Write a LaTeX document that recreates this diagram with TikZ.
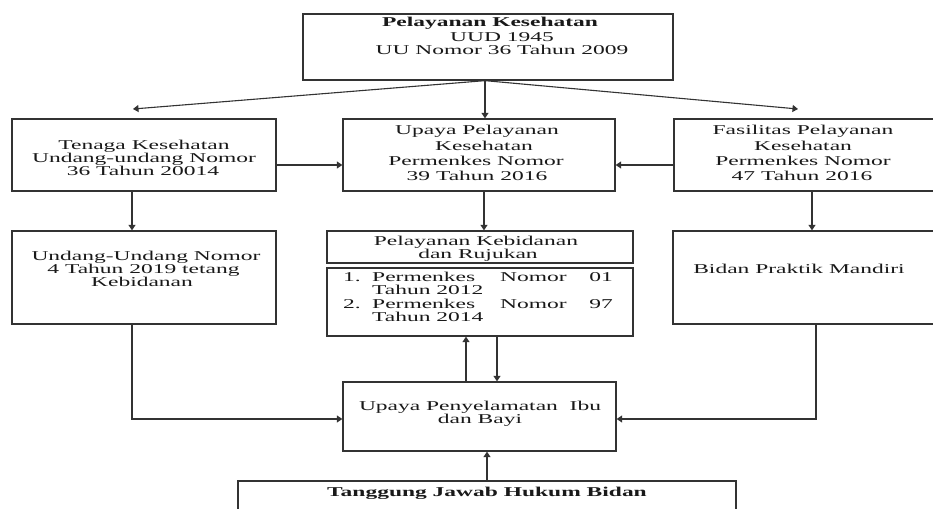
\documentclass[tikz,border=0pt]{standalone}
\usepackage{fontspec}
\setmainfont{Liberation Serif}[FakeStretch=1.74]
\usetikzlibrary{arrows.meta,calc}
\begin{document}
\begin{tikzpicture}[x=1pt,y=-1pt,
  box/.style={draw=black!80, line width=1.3pt, inner sep=0pt},
  txt/.style={anchor=base, inner sep=0pt, text=black!90, font=\fontsize{13.5}{14}\selectfont},
  btxt/.style={txt, font=\fontsize{13.5}{14}\selectfont\bfseries},
  ltxt/.style={txt, anchor=base west},
  rtxt/.style={txt, anchor=base east},
  arr/.style={draw=black!80, line width=1.1pt, -{Triangle[length=5.5pt,width=7pt]}}]
\useasboundingbox (0,0) rectangle (933,508);
\fill[white] (0,0) rectangle (933,508);
\clip (0,0) rectangle (933,508);

% boxes
\node[box, minimum width=370pt, minimum height=66pt] (top) at (488,47) {};
\node[box, minimum width=264pt, minimum height=72pt] (tenaga) at (144,155) {};
\node[box, minimum width=272pt, minimum height=72pt] (upaya) at (479,155) {};
\node[box, minimum width=264pt, minimum height=72pt] (fasil) at (806,155) {};
\node[box, minimum width=264pt, minimum height=93pt] (undang) at (144,277.5) {};
\node[box, minimum width=306pt, minimum height=32pt] (kebid) at (480,247) {};
\node[box, minimum width=306pt, minimum height=68pt] (list) at (480,302) {};
\node[box, minimum width=264pt, minimum height=93pt] (bidan) at (805,277.5) {};
\node[box, minimum width=273pt, minimum height=69pt] (penyel) at (479.5,416.5) {};
\node[box, minimum width=498pt, minimum height=49pt] (tanggung) at (487,505.5) {};

% texts
\node[btxt] (top1) at (490,27) {Pelayanan Kesehatan};
\node[txt] (top2) at (502,41.5) {UUD 1945};
\node[txt] (top3) at (502,55) {UU Nomor 36 Tahun 2009};

\node[txt] (ten1) at (144,149) {Tenaga Kesehatan};
\node[txt] (ten2) at (144,162) {Undang-undang Nomor};
\node[txt] (ten3) at (143,175) {36 Tahun 20014};

\node[txt] (up1) at (477,135) {Upaya Pelayanan};
\node[txt] (up2) at (484,150) {Kesehatan};
\node[txt] (up3) at (476,165) {Permenkes Nomor};
\node[txt] (up4) at (477,180) {39 Tahun 2016};

\node[txt] (fa1) at (803,135) {Fasilitas Pelayanan};
\node[txt] (fa2) at (803,150) {Kesehatan};
\node[txt] (fa3) at (803,165) {Permenkes Nomor};
\node[txt] (fa4) at (802,180) {47 Tahun 2016};

\node[txt] (un1) at (146,260) {Undang-Undang Nomor};
\node[txt] (un2) at (143.5,273) {4 Tahun 2019 tetang};
\node[txt] (un3) at (142,286) {Kebidanan};

\node[txt] (kb1) at (476,245.5) {Pelayanan Kebidanan};
\node[txt] (kb2) at (478,258) {dan Rujukan};

\node[ltxt] (l1a) at (343,281) {1.};
\node[ltxt] (l1b) at (372,281) {Permenkes};
\node[ltxt] (l1c) at (500,281) {Nomor};
\node[rtxt] (l1d) at (613,281) {01};
\node[ltxt] (l1e) at (372,294.5) {Tahun 2012};
\node[ltxt] (l2a) at (343,308) {2.};
\node[ltxt] (l2b) at (372,308) {Permenkes};
\node[ltxt] (l2c) at (500,308) {Nomor};
\node[rtxt] (l2d) at (613,308) {97};
\node[ltxt] (l2e) at (372,321.5) {Tahun 2014};

\node[txt] (bd1) at (799,273) {Bidan Praktik Mandiri};

\node[txt] (py1) at (480,410.5) {Upaya Penyelamatan\ \ Ibu};
\node[txt] (py2) at (480,423.5) {dan Bayi};

\node[btxt] (tg1) at (487,496) {Tanggung Jawab Hukum Bidan};

% connectors
\coordinate (topS) at ([xshift=-3pt]top.south);
\coordinate (tipL) at (133,109);
\coordinate (tipR) at (798,109);
\draw[arr] (topS) -- (tipL);
\draw[arr] (topS) -- (tipR);
\draw[arr] (topS) -- (topS |- upaya.north);

\draw[arr] ([yshift=-10pt]tenaga.east) -- ([yshift=-10pt]upaya.west);
\draw[arr] ([yshift=-10pt]fasil.west) -- ([yshift=-10pt]upaya.east);

\draw[arr] ([xshift=-12pt]tenaga.south) -- ([xshift=-12pt]undang.north);
\draw[arr] ([xshift=5pt]upaya.south) -- ([xshift=5pt]upaya.south |- kebid.north);
\draw[arr] ([xshift=6pt]fasil.south) -- ([xshift=6pt]fasil.south |- bidan.north);

\draw[arr] ([xshift=-12pt]undang.south) |- ([yshift=-2.5pt]penyel.west);
\draw[arr] ([xshift=11pt]bidan.south) |- ([yshift=-2.5pt]penyel.east);

\draw[arr] ([xshift=-13.5pt]penyel.north) -- ([xshift=-13.5pt]penyel.north |- list.south);
\draw[arr] ([xshift=17.5pt]penyel.north |- list.south) -- ([xshift=17.5pt]penyel.north);

\draw[arr] (tanggung.north) -- (tanggung.north |- penyel.south);
\end{tikzpicture}
\end{document}
